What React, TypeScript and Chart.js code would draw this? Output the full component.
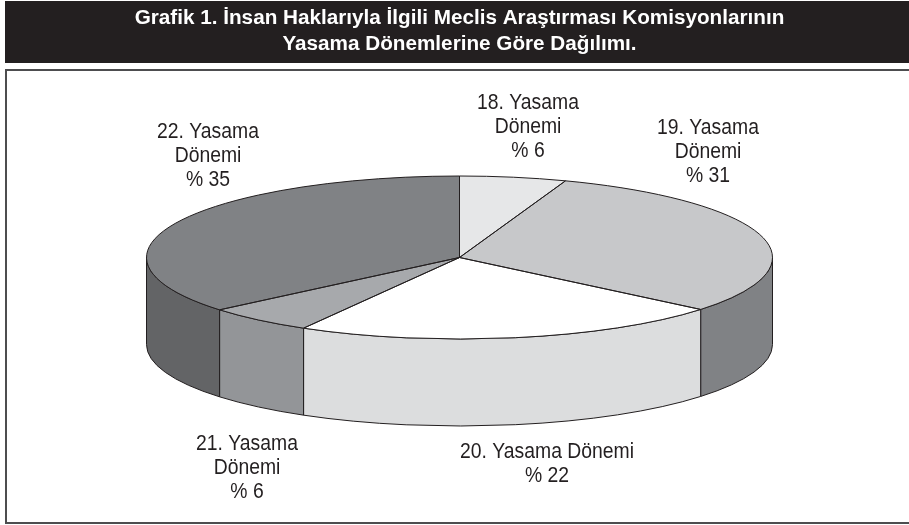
import React, { useEffect, useRef } from "react";
import { Chart, registerables } from "chart.js";

Chart.register(...registerables);

const categories = ["18. Yasama Dönemi", "19. Yasama Dönemi", "20. Yasama Dönemi", "21. Yasama Dönemi", "22. Yasama Dönemi"];
const sliceShares = [5.5, 30.5, 22.3, 5.6, 36.1];
const labelLines = [
  ["18. Yasama", "Dönemi", "% 6"],
  ["19. Yasama", "Dönemi", "% 31"],
  ["20. Yasama Dönemi", "% 22"],
  ["21. Yasama", "Dönemi", "% 6"],
  ["22. Yasama", "Dönemi", "% 35"],
];
const titleLines = ["Grafik 1. İnsan Haklarıyla İlgili Meclis Araştırması Komisyonlarının", "Yasama Dönemlerine Göre Dağılımı."];
const topColors = ["#e6e7e8", "#c7c8ca", "#ffffff", "#a7a9ac", "#808285"];
const wallColors = ["#e6e7e8", "#808285", "#dcddde", "#939598", "#636466"];

const INK = "#231f20";
const PIE = { cy: 257.5, rx: 313, ry: 81.5, depth: 87 };
const LABEL_POS = [
  { x: 528, y: 103 },
  { x: 708, y: 128 },
  { x: 547, y: 452 },
  { x: 247, y: 444 },
  { x: 208, y: 132 },
];

const pie3d = {
  id: "pie3d",
  beforeDraw(chart: any) {
    const { ctx } = chart;
    ctx.save();
    ctx.fillStyle = "#ffffff";
    ctx.fillRect(0, 0, 909, 525);
    ctx.fillStyle = INK;
    ctx.fillRect(5, 1, 904, 62);
    ctx.strokeStyle = "#4d4d4f";
    ctx.lineWidth = 2;
    ctx.strokeRect(6, 70, 910, 453);
    ctx.restore();
  },
  beforeDatasetDraw(chart: any, args: any) {
    const { ctx } = chart;
    const arcs = args.meta.data;
    const cx = arcs[0].x;
    const { cy, rx, ry, depth } = PIE;
    ctx.save();
    ctx.strokeStyle = INK;
    ctx.lineWidth = 1;
    arcs.forEach((arc: any, i: number) => {
      const a0 = Math.max(arc.startAngle, 0);
      const a1 = Math.min(arc.endAngle, Math.PI);
      if (a1 <= a0) return;
      ctx.beginPath();
      ctx.ellipse(cx, cy, rx, ry, 0, a0, a1);
      ctx.ellipse(cx, cy + depth, rx, ry, 0, a1, a0, true);
      ctx.closePath();
      ctx.fillStyle = wallColors[i];
      ctx.fill();
      ctx.stroke();
    });
    ctx.restore();
    ctx.save();
    ctx.translate(cx, cy);
    ctx.scale(1, ry / rx);
    ctx.translate(-arcs[0].x, -arcs[0].y);
  },
  afterDatasetDraw(chart: any, args: any) {
    const { ctx } = chart;
    ctx.restore();
    const arcs = args.meta.data;
    const cx = arcs[0].x;
    const { cy, rx, ry } = PIE;
    ctx.save();
    ctx.strokeStyle = INK;
    ctx.lineWidth = 1;
    arcs.forEach((arc: any) => {
      ctx.beginPath();
      ctx.moveTo(cx, cy);
      ctx.ellipse(cx, cy, rx, ry, 0, arc.startAngle, arc.endAngle);
      ctx.closePath();
      ctx.stroke();
    });
    ctx.restore();
  },
  afterDraw(chart: any) {
    const { ctx } = chart;
    ctx.save();
    ctx.fillStyle = INK;
    ctx.textAlign = "center";
    ctx.textBaseline = "middle";
    ctx.font = "22px 'Liberation Sans'";
    labelLines.forEach((lines, i) => {
      lines.forEach((line, j) => {
        ctx.save();
        ctx.translate(LABEL_POS[i].x, LABEL_POS[i].y + j * 24);
        ctx.scale(0.88, 1);
        ctx.fillText(line, 0, 0);
        ctx.restore();
      });
    });
    ctx.restore();
  },
};

export default function App() {
  const ref = useRef<HTMLCanvasElement>(null);
  useEffect(() => {
    const chart = new Chart(ref.current as HTMLCanvasElement, {
      type: "pie",
      data: {
        labels: categories,
        datasets: [
          {
            data: sliceShares,
            backgroundColor: topColors,
            borderWidth: 0,
            clip: false,
          } as any,
        ],
      },
      options: {
        responsive: false,
        animation: false,
        devicePixelRatio: 1,
        radius: PIE.rx,
        layout: { padding: { left: 10 } },
        plugins: {
          legend: { display: false },
          tooltip: { enabled: false },
          title: {
            display: true,
            text: titleLines,
            color: "#ffffff",
            font: { family: "'Liberation Sans'", size: 20.7, weight: "bold", lineHeight: 1.27 },
            padding: { top: 5, bottom: 0 },
          },
        },
      } as any,
      plugins: [pie3d],
    });
    return () => chart.destroy();
  }, []);
  return (
    <div style={{ position: "absolute", left: 0, top: 0 }}>
      <canvas ref={ref} width={909} height={525} style={{ display: "block" }} />
    </div>
  );
}
